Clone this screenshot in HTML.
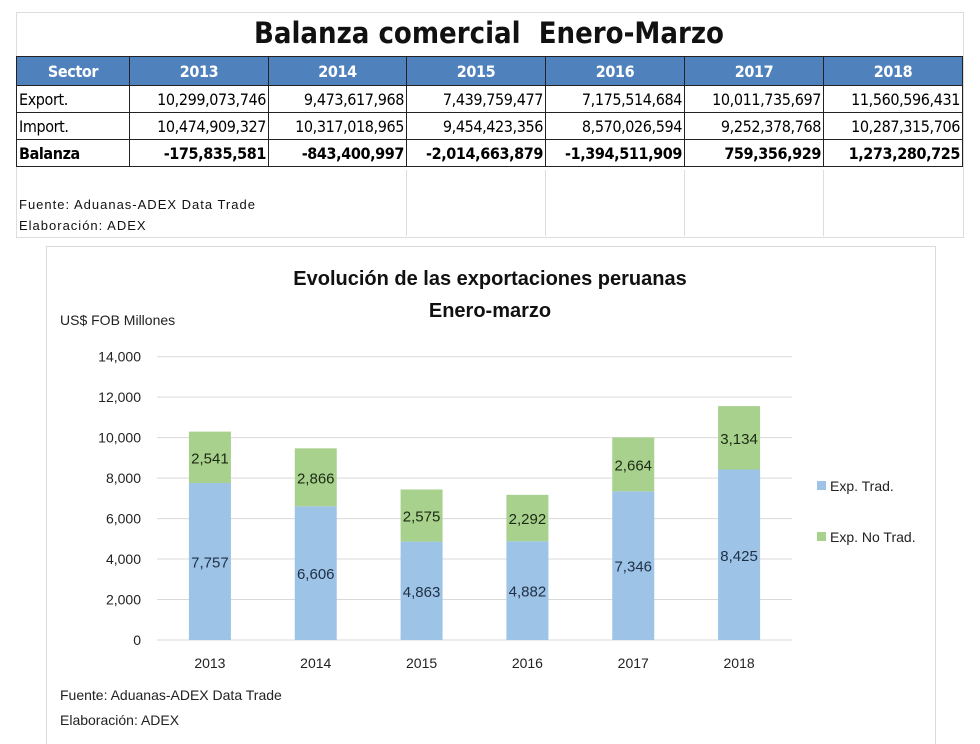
<!DOCTYPE html>
<html><head><meta charset="utf-8"><style>
body{margin:0;width:980px;height:744px;background:#fff;font-family:"Liberation Sans",sans-serif;position:relative;overflow:hidden}
table{position:absolute;left:16px;top:56px;border-collapse:collapse;table-layout:fixed;width:946px;font-size:16px;font-family:"DejaVu Sans Condensed","Liberation Sans",sans-serif}
td,th{border:1.5px solid #222;height:26px;padding:0 2px;white-space:nowrap;overflow:hidden;letter-spacing:-0.4px}
th{background:#4f81bd;color:#fff;font-weight:bold;font-size:16px;text-align:center;height:28px}
td.n{text-align:right}
tr.b td{font-weight:bold}
</style></head><body>
<div style="position:absolute;left:16px;top:12px;width:946px;height:224px;border:1px solid #ddd"></div>
<div style="position:absolute;left:406px;top:170px;width:1px;height:66px;background:#ddd"></div>
<div style="position:absolute;left:545px;top:170px;width:1px;height:66px;background:#ddd"></div>
<div style="position:absolute;left:684px;top:170px;width:1px;height:66px;background:#ddd"></div>
<div style="position:absolute;left:823px;top:170px;width:1px;height:66px;background:#ddd"></div>
<div style="position:absolute;left:16px;width:946px;top:16px;text-align:center;font-size:29px;font-weight:bold;color:#111;font-family:'DejaVu Sans Condensed','Liberation Sans',sans-serif">Balanza comercial&nbsp; Enero-Marzo</div>
<table>
<colgroup><col style="width:113px"><col style="width:139px"><col style="width:138px"><col style="width:139px"><col style="width:139px"><col style="width:139px"><col style="width:139px"></colgroup>
<tr><th>Sector</th><th>2013</th><th>2014</th><th>2015</th><th>2016</th><th>2017</th><th>2018</th></tr>
<tr><td>Export.</td><td class="n">10,299,073,746</td><td class="n">9,473,617,968</td><td class="n">7,439,759,477</td><td class="n">7,175,514,684</td><td class="n">10,011,735,697</td><td class="n">11,560,596,431</td></tr>
<tr><td>Import.</td><td class="n">10,474,909,327</td><td class="n">10,317,018,965</td><td class="n">9,454,423,356</td><td class="n">8,570,026,594</td><td class="n">9,252,378,768</td><td class="n">10,287,315,706</td></tr>
<tr class="b"><td>Balanza</td><td class="n">-175,835,581</td><td class="n">-843,400,997</td><td class="n">-2,014,663,879</td><td class="n">-1,394,511,909</td><td class="n">759,356,929</td><td class="n">1,273,280,725</td></tr>
</table>
<div style="position:absolute;left:19px;top:194px;font-size:13px;letter-spacing:1px;line-height:21px;color:#111">Fuente: Aduanas-ADEX Data Trade<br>Elaboración: ADEX</div>
<svg id="c" width="980" height="744" style="position:absolute;left:0;top:0" font-family="Liberation Sans, sans-serif">
<rect x="46.5" y="246.5" width="889" height="500" fill="none" stroke="#d9d9d9"/>
<text x="490" y="285" text-anchor="middle" font-size="20" font-weight="bold" fill="#111">Evolución de las exportaciones peruanas</text>
<text x="490" y="317" text-anchor="middle" font-size="20" font-weight="bold" fill="#111">Enero-marzo</text>
<text x="60" y="325" font-size="14" fill="#222">US$ FOB Millones</text>
<text x="60" y="700" font-size="14" fill="#222">Fuente: Aduanas-ADEX Data Trade</text>
<text x="60" y="725" font-size="14" fill="#222">Elaboración: ADEX</text>
<rect x="817" y="481" width="9" height="9" fill="#9dc3e6"/>
<text x="830" y="491" font-size="14" fill="#222">Exp. Trad.</text>
<rect x="817" y="532" width="9" height="9" fill="#a9d18e"/>
<text x="830" y="542" font-size="14" fill="#222">Exp. No Trad.</text>
<g id="plot"></g>
</svg>
<script>
const categories=["2013","2014","2015","2016","2017","2018"];
const trad=[7757,6606,4863,4882,7346,8425];
const noTrad=[2541,2866,2575,2292,2664,3134];
const ticks=[0,2000,4000,6000,8000,10000,12000,14000];
const X0=157,X1=792,Y0=640,YT=356.7,MAX=14000,BW=42;
const y=v=>Y0-(Y0-YT)*v/MAX;
const band=(X1-X0)/categories.length;
const xc=i=>X0+band*(i+0.5);
const g=document.getElementById('plot');
const NS='http://www.w3.org/2000/svg';
function mk(t,a){const e=document.createElementNS(NS,t);for(const k in a)e.setAttribute(k,a[k]);g.appendChild(e);return e;}
const fmt=v=>v.toLocaleString('en-US');
ticks.forEach(t=>{
 const l=mk('line',{x1:X0,x2:X1,y1:y(t),y2:y(t),stroke:'#d9d9d9','stroke-width':1});
 
 
 const tx=mk('text',{x:141,y:y(t)+5,'text-anchor':'end','font-size':14,fill:'#222'});
 tx.textContent=fmt(t);
 
 
});
categories.forEach((c,i)=>{
 const x=xc(i)-BW/2;
 const b1=mk('rect',{x:x,y:y(trad[i]),width:BW,height:Y0-y(trad[i]),fill:'#9dc3e6'});
 
 
 const tot=trad[i]+noTrad[i];
 const b2=mk('rect',{x:x,y:y(tot),width:BW,height:y(trad[i])-y(tot),fill:'#a9d18e'});
 
 
 const l1=mk('text',{x:xc(i),y:y(trad[i]/2)+6,'text-anchor':'middle','font-size':15,fill:'#1f2f45'});
 l1.textContent=fmt(trad[i]);
 
 
 const l2=mk('text',{x:xc(i),y:y(trad[i]+noTrad[i]/2)+6,'text-anchor':'middle','font-size':15,fill:'#1b2a12'});
 l2.textContent=fmt(noTrad[i]);
 
 
 const xl=mk('text',{x:xc(i),y:668,'text-anchor':'middle','font-size':14,fill:'#222'});
 xl.textContent=c;
 
 
});
</script>
</body></html>
